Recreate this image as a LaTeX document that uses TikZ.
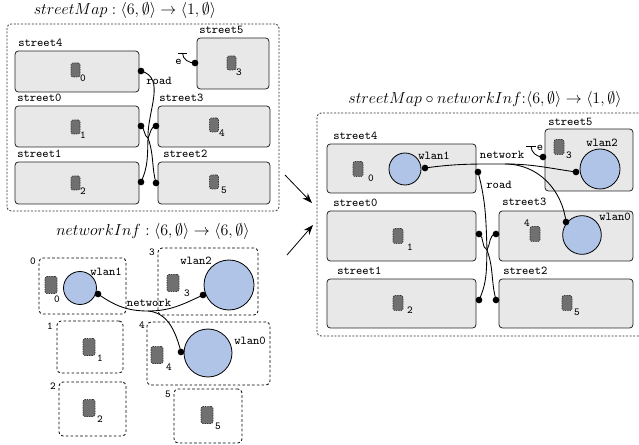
\documentclass[tikz,border=0pt]{standalone}
\usetikzlibrary{fit,arrows.meta}
\definecolor{boxfill}{RGB}{232,232,232}
\definecolor{wlanfill}{RGB}{176,196,232}
\definecolor{sitefill}{RGB}{112,112,112}
\tikzset{
  stbox/.style={draw=black!85, fill=boxfill, rounded corners=2.5pt, inner sep=0pt, line width=0.6pt},
  region/.style={draw=black, dash pattern=on 2pt off 1.6pt, rounded corners=3pt, inner sep=0pt, line width=0.6pt},
  outerbox/.style={draw=black!80, dash pattern=on 1.5pt off 1.2pt, rounded corners=3pt, line width=0.6pt},
  site/.style={draw=black!80, fill=sitefill, dash pattern=on 1pt off 0.8pt, rounded corners=1.5pt,
               minimum width=6.75pt, minimum height=10.5pt, inner sep=0pt, line width=0.5pt},
  bigsite/.style={site, minimum width=9pt, minimum height=12.75pt},
  midsite/.style={site, minimum width=7.5pt, minimum height=11.25pt},
  wlan/.style={circle, draw=black, fill=wlanfill, line width=0.6pt, inner sep=0pt},
  dotp/.style={circle, fill=black, inner sep=0pt, minimum size=5pt},
  linkline/.style={draw=black, line width=0.65pt},
  lbl/.style={font=\fontsize{9}{10}\selectfont\ttfamily, anchor=base west, inner sep=0pt},
  txt/.style={font=\fontsize{9}{10}\selectfont\ttfamily, inner sep=0pt},
  subn/.style={font=\fontsize{8}{9}\selectfont\ttfamily, inner sep=0pt},
  ttl/.style={font=\fontsize{11.5}{13}\selectfont, inner sep=0pt},
  morph/.style={draw=black, line width=0.6pt, -{Stealth[length=7.5pt,width=5.5pt]}},
}
\begin{document}
\begin{tikzpicture}[x=0.75pt,y=-0.75pt]
\clip (0,0) rectangle (639,445);

% ---------------- streetMap ----------------
\node[ttl] (tsm) at (125,11) {$streetMap : \langle 6,\emptyset\rangle \rightarrow \langle 1,\emptyset\rangle$};
\node[outerbox, fit={(7,24)(279,211)}, inner sep=0pt] (smo) {};

\node[stbox, fit={(15,51)(139,92)}] (s4) {};
\node[stbox, fit={(15,106)(139,147)}] (s0) {};
\node[stbox, fit={(15,162)(139,204)}] (s1) {};
\node[stbox, fit={(197,38)(269,89)}] (s5) {};
\node[stbox, fit={(158,106)(270,147)}] (s3) {};
\node[stbox, fit={(158,162)(270,204)}] (s2) {};

\node[lbl] (s4l) at (18,46.5) {street4};
\node[lbl] (s0l) at (17,101.5) {street0};
\node[lbl] (s1l) at (17,157.5) {street1};
\node[lbl] (s5l) at (199,34) {street5};
\node[lbl] (s3l) at (159,101.5) {street3};
\node[lbl] (s2l) at (163,157.5) {street2};

\node[site] (x0) at (75.5,70) {};   \node[subn] (x0n) at (83,78) {0};
\node[site] (x1) at (75.5,127) {};  \node[subn] (x1n) at (83,135) {1};
\node[site] (x2) at (75.5,183) {};  \node[subn] (x2n) at (83,191) {2};
\node[site] (x3) at (231.5,63) {};  \node[subn] (x3n) at (239,72) {3};
\node[site] (x4) at (214,125) {};   \node[subn] (x4n) at (222,133) {4};
\node[site] (x5) at (214,182) {};   \node[subn] (x5n) at (224,190) {5};

% road link
\node[dotp] (d4) at (141,71) {};
\node[dotp] (d0) at (141,126) {};
\node[dotp] (d1) at (141,182) {};
\node[dotp] (d3) at (156,126) {};
\node[dotp] (d2) at (156,183) {};
\coordinate (rh) at (148,138);
\draw[linkline] (d4.center) to[out=-15,in=92] (rh);
\draw[linkline] (rh) to[out=-92,in=65] (d1.center);
\draw[linkline] (d0.center) to[out=-35,in=150] (rh);
\draw[linkline] (d3.center) to[out=185,in=60] (rh);
\draw[linkline] (d2.center) to[out=105,in=-70] (rh);
\node[txt] (rdl) at (159,81) {road};

% closed link e
\node[dotp] (d5) at (195,63) {};
\coordinate (eba) at (178,53);
\coordinate (ebb) at (187,53);
\coordinate (ebm) at (182.5,53);
\draw[linkline] (eba) -- (ebb);
\draw[linkline] (ebm) to[out=-90,in=180] (d5.center);
\node[txt] (el) at (178.5,62) {e};

% ---------------- networkInf ----------------
\node[ttl] (tni) at (153,232) {$networkInf : \langle 6,\emptyset\rangle \rightarrow \langle 6,\emptyset\rangle$};

\node[region, fit={(39,258)(126,314)}] (r0) {};
\node[region, fit={(57,321)(123,373)}] (r1) {};
\node[region, fit={(59,382)(126,436)}] (r2) {};
\node[region, fit={(158,248)(258,315)}] (r3) {};
\node[region, fit={(147,322)(270,385)}] (r4) {};
\node[region, fit={(174,389)(242,443)}] (r5) {};

\node[subn] (r0l) at (33,261) {0};
\node[subn] (r1l) at (50,326) {1};
\node[subn] (r2l) at (53,386) {2};
\node[subn] (r3l) at (152,252) {3};
\node[subn] (r4l) at (142,325) {4};
\node[subn] (r5l) at (168,394) {5};

\node[bigsite] (y0) at (51,285) {};   \node[subn] (y0n) at (57,299) {0};
\node[bigsite] (y1) at (89,347) {};   \node[subn] (y1n) at (100,358) {1};
\node[bigsite] (y2) at (89,408) {};   \node[subn] (y2n) at (100,419) {2};
\node[bigsite] (y3) at (173,283) {};  \node[subn] (y3n) at (187,293) {3};
\node[bigsite] (y4) at (157,355) {};  \node[subn] (y4n) at (169,367) {4};
\node[bigsite] (y5) at (207,415) {};  \node[subn] (y5n) at (218,426) {5};

\node[wlan, minimum size=24.75pt] (w1) at (80,288) {};
\node[wlan, minimum size=37.5pt] (w2) at (229,285) {};
\node[wlan, minimum size=36pt] (w0) at (208,353) {};
\node[txt] (w1l) at (106,272) {wlan1};
\node[txt] (w2l) at (196,261) {wlan2};
\node[txt] (w0l) at (250,341) {wlan0};

\node[dotp] (n1) at (98,294) {};
\node[dotp] (n2) at (203,295) {};
\node[dotp] (n0) at (181,352) {};
\coordinate (nh) at (148,311);
\draw[linkline] (n1.center) to[out=-35,in=180] (nh);
\draw[linkline] (nh) to[out=0,in=205] (n2.center);
\draw[linkline] (nh) to[out=-5,in=105] (n0.center);
\node[txt] (nwl) at (149,303) {network};

% ---------------- arrows ----------------
\coordinate (a1s) at (285,175);
\coordinate (a1e) at (312,203);
\coordinate (a2s) at (287,255);
\coordinate (a2e) at (313,225);
\draw[morph] (a1s) -- (a1e);
\draw[morph] (a2s) -- (a2e);

% ---------------- composition ----------------
\node[ttl] (tco) at (485,100) {$streetMap \circ networkInf{:}\langle 6,\emptyset\rangle \rightarrow \langle 1,\emptyset\rangle$};
\draw[outerbox] (660,113) -| (317,336) -- (660,336);

\node[stbox, fit={(327,144)(476,193)}] (c4) {};
\node[stbox, fit={(545,129)(633,191)}] (c5) {};
\node[stbox, fit={(327,211)(476,261)}] (c0) {};
\node[stbox, fit={(499,211)(633,261)}] (c3) {};
\node[stbox, fit={(327,279)(476,328)}] (c1) {};
\node[stbox, fit={(499,279)(633,328)}] (c2) {};

\node[lbl] (c4l) at (333,140) {street4};
\node[lbl] (c5l) at (548,126) {street5};
\node[lbl] (c0l) at (333,206.5) {street0};
\node[lbl] (c3l) at (502,205.5) {street3};
\node[lbl] (c1l) at (337,274.5) {street1};
\node[lbl] (c2l) at (503,274.5) {street2};

\node[midsite] (z0) at (358,169) {};  \node[subn] (z0n) at (371,178) {0};
\node[midsite] (z3) at (559,147) {};  \node[subn] (z3n) at (569,155) {3};
\node[midsite] (z1) at (398,236) {};  \node[subn] (z1n) at (410,247) {1};
\node[midsite] (z4) at (535,234) {};  \node[subn] (z4n) at (527,223) {4};
\node[midsite] (z2) at (398,303) {};  \node[subn] (z2n) at (410,310) {2};
\node[midsite] (z5) at (567,303) {};  \node[subn] (z5n) at (577,312) {5};

\node[wlan, minimum size=24pt] (cw1) at (405,169) {};
\node[wlan, minimum size=30pt] (cw2) at (600,169) {};
\node[wlan, minimum size=29pt] (cw0) at (582,235) {};
\node[txt] (cw1l) at (434,156) {wlan1};
\node[txt] (cw2l) at (602,143) {wlan2};
\node[txt] (cw0l) at (615,217) {wlan0};

% network link
\node[dotp] (m1) at (425,168) {};
\node[dotp] (m2) at (576,172) {};
\node[dotp] (m0) at (566,222) {};
\coordinate (mh) at (505,164);
\draw[linkline] (m1.center) to[out=8,in=180] (mh);
\draw[linkline] (mh) to[out=0,in=172] (m2.center);
\draw[linkline] (mh) to[out=0,in=97] (m0.center);
\node[txt] (cnwl) at (502,155) {network};

% road link
\node[dotp] (e4) at (478,172) {};
\node[dotp] (e0) at (479,234) {};
\node[dotp] (e3) at (496,234) {};
\node[dotp] (e1) at (479,300) {};
\node[dotp] (e2) at (496,300) {};
\coordinate (eh) at (487,250);
\draw[linkline] (e4.center) to[out=-75,in=92] (eh);
\draw[linkline] (eh) to[out=-92,in=65] (e1.center);
\draw[linkline] (e0.center) to[out=-35,in=150] (eh);
\draw[linkline] (e3.center) to[out=185,in=60] (eh);
\draw[linkline] (e2.center) to[out=105,in=-70] (eh);
\node[txt] (crdl) at (499,185) {road};

% closed link e
\node[dotp] (e5) at (543,157) {};
\coordinate (fba) at (526,146);
\coordinate (fbb) at (536,146);
\coordinate (fbm) at (531,146);
\draw[linkline] (fba) -- (fbb);
\draw[linkline] (fbm) to[out=-90,in=180] (e5.center);
\node[txt] (fl) at (540,148) {e};
\end{tikzpicture}
\end{document}
